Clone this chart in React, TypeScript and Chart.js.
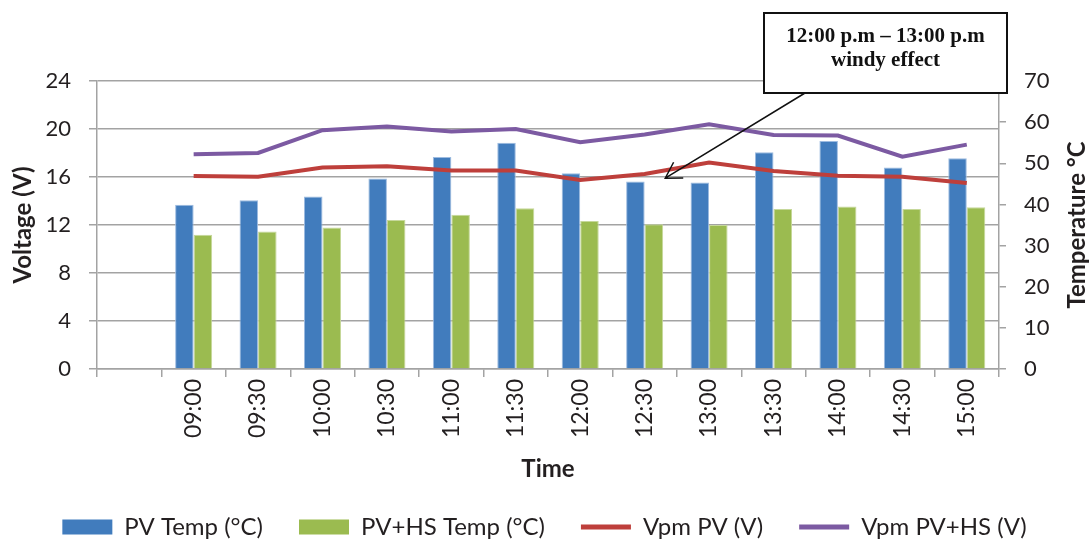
import React, { useEffect, useRef } from 'react';
import { Chart, registerables } from 'chart.js';

Chart.register(...registerables);

// ---- data ----
const timeLabels = ['', '09:00', '09:30', '10:00', '10:30', '11:00', '11:30', '12:00', '12:30', '13:00', '13:30', '14:00', '14:30', '15:00'];
const pvTemp = [null, 39.9, 41.0, 41.9, 46.3, 51.5, 55.0, 47.6, 45.6, 45.3, 52.7, 55.4, 49.0, 51.2];
const pvHsTemp = [null, 32.6, 33.4, 34.4, 36.2, 37.5, 39.1, 36.0, 35.2, 35.0, 38.9, 39.5, 38.9, 39.3];
const vpmPv = [null, 16.08, 16.03, 16.8, 16.9, 16.55, 16.55, 15.75, 16.25, 17.2, 16.5, 16.1, 16.03, 15.5];
const vpmPvHs = [null, 17.9, 18.0, 19.9, 20.2, 19.8, 20.0, 18.9, 19.55, 20.4, 19.5, 19.45, 17.7, 18.7];
const seriesNames = ['PV Temp (°C)', 'PV+HS Temp (°C)', 'Vpm PV (V)', 'Vpm PV+HS (V)'];
const voltageAxis = [0, 24, 4]; // min, max, step
const tempAxis = [0, 70, 10];
const axisTitles = ['Voltage (V)', 'Temperature °C', 'Time'];
const noteLines = ['12:00 p.m – 13:00 p.m', 'windy effect'];
const noteTarget = [8.32, 15.9]; // category position, voltage

const COLORS = {
  blue: '#417CBD',
  green: '#9BBB50',
  red: '#BE3F3B',
  purple: '#7C5AA2',
  grid: '#A3A3A3',
  text: '#231F20',
};

const FONT = 'Lato, "Open Sans", sans-serif';

const annotationPlugin = {
  id: 'annotationsAndRightTitle',
  afterDraw(chart: any) {
    const { ctx, chartArea, scales } = chart;
    const xs = scales.x;
    const yv = scales.yV;

    // Right axis title (reads bottom to top)
    ctx.save();
    ctx.font = `bold 24px ${FONT}`;
    ctx.fillStyle = COLORS.text;
    ctx.textAlign = 'center';
    ctx.textBaseline = 'middle';
    ctx.translate(chart.width - 12, (chartArea.top + chartArea.bottom) / 2);
    ctx.rotate(-Math.PI / 2);
    ctx.fillText(axisTitles[1], 0, 0);
    ctx.restore();

    // Callout box
    const boxL = chartArea.right - 235;
    const boxR = chartArea.right + 8;
    const boxT = chartArea.top - 68;
    const boxB = chartArea.top + 12;
    ctx.save();
    ctx.fillStyle = '#ffffff';
    ctx.fillRect(boxL, boxT, boxR - boxL, boxB - boxT);
    ctx.lineWidth = 2;
    ctx.strokeStyle = '#111';
    ctx.strokeRect(boxL, boxT, boxR - boxL, boxB - boxT);
    ctx.fillStyle = '#111';
    ctx.font = 'bold 21px "Liberation Serif", "Times New Roman", serif';
    ctx.textAlign = 'center';
    ctx.textBaseline = 'middle';
    const cx = (boxL + boxR) / 2;
    ctx.fillText(noteLines[0], cx, boxT + 24);
    ctx.fillText(noteLines[1], cx, boxT + 48);

    // Arrow
    const i0 = Math.floor(noteTarget[0]);
    const frac = noteTarget[0] - i0;
    const p0 = xs.getPixelForValue(i0);
    const p1 = xs.getPixelForValue(i0 + 1);
    const tipX = p0 + frac * (p1 - p0);
    const tipY = yv.getPixelForValue(noteTarget[1]);
    const startX = boxL + 41;
    const startY = boxB;
    ctx.strokeStyle = '#111';
    ctx.lineWidth = 1.5;
    ctx.beginPath();
    ctx.moveTo(startX, startY);
    ctx.lineTo(tipX, tipY);
    const ang = Math.atan2(startY - tipY, startX - tipX);
    const headLen = 18;
    const spread = (31 * Math.PI) / 180;
    ctx.moveTo(tipX + headLen * Math.cos(ang + spread), tipY + headLen * Math.sin(ang + spread));
    ctx.lineTo(tipX, tipY);
    ctx.lineTo(tipX + headLen * Math.cos(ang - spread), tipY + headLen * Math.sin(ang - spread));
    ctx.stroke();
    ctx.restore();
  },
};

export default function App() {
  const canvasRef = useRef<HTMLCanvasElement | null>(null);

  useEffect(() => {
    if (!canvasRef.current) return;
    Chart.defaults.font.family = FONT;
    Chart.defaults.color = COLORS.text;

    const chart = new Chart(canvasRef.current, {
      type: 'bar',
      data: {
        labels: timeLabels,
        datasets: [
          {
            type: 'bar',
            label: seriesNames[0],
            data: pvTemp,
            backgroundColor: COLORS.blue,
            borderColor: '#9DBBE0',
            borderWidth: 1,
            yAxisID: 'yT',
            order: 2,
            categoryPercentage: 0.575,
            barPercentage: 1.0,
          },
          {
            type: 'bar',
            label: seriesNames[1],
            data: pvHsTemp,
            backgroundColor: COLORS.green,
            borderColor: '#C6D89B',
            borderWidth: 1,
            yAxisID: 'yT',
            order: 2,
            categoryPercentage: 0.575,
            barPercentage: 1.0,
          },
          {
            type: 'line',
            label: seriesNames[2],
            data: vpmPv,
            borderColor: COLORS.red,
            backgroundColor: COLORS.red,
            borderWidth: 4,
            pointRadius: 0,
            tension: 0,
            yAxisID: 'yV',
            order: 1,
          },
          {
            type: 'line',
            label: seriesNames[3],
            data: vpmPvHs,
            borderColor: COLORS.purple,
            backgroundColor: COLORS.purple,
            borderWidth: 4,
            pointRadius: 0,
            tension: 0,
            yAxisID: 'yV',
            order: 1,
          },
        ] as any,
      },
      options: {
        animation: false,
        responsive: true,
        maintainAspectRatio: false,
        layout: { padding: { top: 81, left: 0, right: 0, bottom: 0 } },
        plugins: {
          tooltip: { enabled: false },
          legend: {
            position: 'bottom',
            maxHeight: 64,
            labels: {
              usePointStyle: true,
              pointStyleWidth: 50,
              boxHeight: 15,
              padding: 36,
              color: COLORS.text,
              font: { size: 24, family: FONT },
              generateLabels: (c: any) =>
                c.data.datasets.map((ds: any, i: number) => {
                  const isBar = ds.type === 'bar';
                  const col = isBar ? ds.backgroundColor : ds.borderColor;
                  return {
                    text: ds.label,
                    fillStyle: col,
                    strokeStyle: col,
                    lineWidth: isBar ? 0 : 5,
                    pointStyle: isBar ? 'rect' : 'line',
                    hidden: false,
                    datasetIndex: i,
                    fontColor: COLORS.text,
                  };
                }),
            },
          },
        },
        scales: {
          x: {
            type: 'category',
            offset: true,
            afterFit: (s: any) => {
              s.height = 110;
            },
            grid: {
              offset: true,
              drawOnChartArea: false,
              drawTicks: true,
              tickLength: 8,
              color: COLORS.grid,
              lineWidth: 1.5,
            },
            border: { color: COLORS.grid, width: 1.5 },
            ticks: {
              autoSkip: false,
              maxRotation: 90,
              minRotation: 90,
              padding: 2,
              color: COLORS.text,
              font: { size: 23, family: FONT },
            },
            title: {
              display: true,
              text: axisTitles[2],
              color: COLORS.text,
              font: { size: 24, weight: 'bold', family: FONT },
              padding: { top: 0, bottom: -5 },
            },
          },
          yV: {
            type: 'linear',
            position: 'left',
            min: voltageAxis[0],
            max: voltageAxis[1],
            afterFit: (s: any) => {
              s.width = 97;
            },
            grid: {
              color: COLORS.grid,
              lineWidth: 1.5,
              tickLength: 8,
            },
            border: { color: COLORS.grid, width: 1.5 },
            ticks: {
              stepSize: voltageAxis[2],
              padding: 18,
              color: COLORS.text,
              font: { size: 22, family: FONT },
            },
            title: {
              display: true,
              text: axisTitles[0],
              color: COLORS.text,
              font: { size: 24, weight: 'bold', family: FONT },
              padding: { top: 9, bottom: 0 },
            },
          },
          yT: {
            type: 'linear',
            position: 'right',
            min: tempAxis[0],
            max: tempAxis[1],
            afterFit: (s: any) => {
              s.width = 90;
            },
            grid: {
              drawOnChartArea: false,
              color: COLORS.grid,
              lineWidth: 1.5,
              tickLength: 7,
            },
            border: { color: COLORS.grid, width: 1.5 },
            ticks: {
              stepSize: tempAxis[2],
              padding: 18,
              color: COLORS.text,
              font: { size: 22, family: FONT },
            },
          },
        },
      } as any,
      plugins: [annotationPlugin],
    });

    return () => chart.destroy();
  }, []);

  return (
    <div style={{ position: 'fixed', left: 0, top: 0, width: 1089, height: 543, background: '#fff' }}>
      <canvas ref={canvasRef} />
    </div>
  );
}
